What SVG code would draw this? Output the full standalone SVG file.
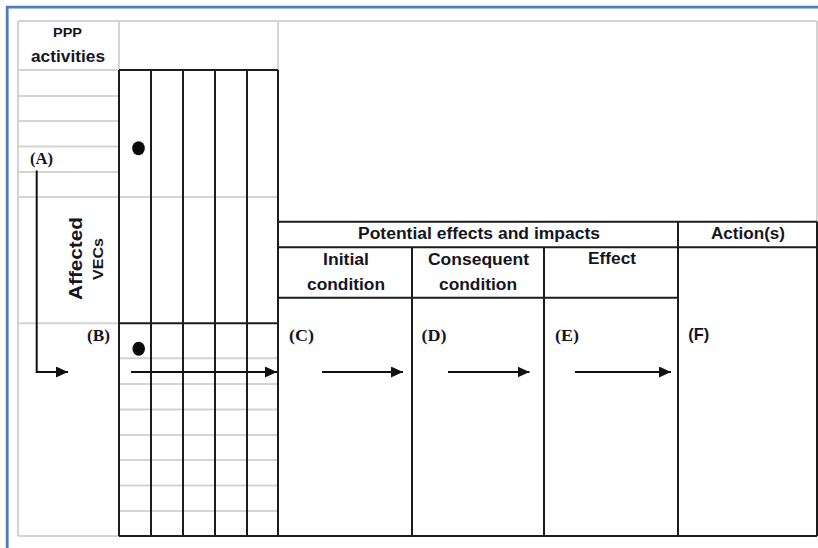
<svg xmlns="http://www.w3.org/2000/svg" width="818" height="548" viewBox="0 0 818 548">
  <style>
    .g { stroke: #d3d3d3; stroke-width: 2; fill: none; }
    .k { stroke: #1c1c1c; stroke-width: 2; fill: none; }
    .hd { font-family: "Liberation Sans", Arial, sans-serif; font-weight: bold; fill: #15151f; }
    .lbl { font-family: "Liberation Serif", "Times New Roman", serif; font-weight: bold; fill: #15151f; font-size: 17px; }
    .arr { stroke: #111; stroke-width: 2; fill: none; marker-end: url(#tip); }
  </style>
  <defs>
    <marker id="tip" viewBox="0 0 12 11" refX="12" refY="5.5" markerWidth="12" markerHeight="11" markerUnits="userSpaceOnUse" orient="auto">
      <path d="M0,0 L12,5.5 L0,11 Z" fill="#111"/>
    </marker>
  </defs>

  <rect width="818" height="548" fill="#ffffff"/>

  <!-- blue page edge -->
  <path d="M7.2,548 V7.2 H818" stroke="#4a7ebb" stroke-width="2.8" fill="none"/>

  <!-- light frame and row rules -->
  <g id="frame">
    <path class="g" d="M18,21 V536 M18,21 H817 M817,21 V221.7 M18,536 H119"/>
    <path class="g" d="M119,21 V70 M278,21 V70 M18,70 H119"/>
    <path class="g" d="M18,96 H119 M18,121 H119 M18,146.5 H119 M18,172 H119 M18,197 H278 M18,323.3 H119"/>
    <path class="g" d="M119,358.3 H278 M119,384 H278 M119,409.5 H278 M119,435 H278 M119,460 H278 M119,485.5 H278 M119,511 H278"/>
  </g>

  <!-- PPP activities column -->
  <g id="ppp-activities">
    <text class="hd" x="67.5" y="37" font-size="13" text-anchor="middle" textLength="29" lengthAdjust="spacingAndGlyphs">PPP</text>
    <text class="hd" x="68" y="62" font-size="16" text-anchor="middle" textLength="74" lengthAdjust="spacingAndGlyphs">activities</text>
    <text class="lbl" x="41.5" y="164" text-anchor="middle" textLength="23" lengthAdjust="spacingAndGlyphs">(A)</text>
  </g>

  <!-- Affected VECs label -->
  <g id="affected-vecs">
    <text class="hd" transform="translate(82,258.5) rotate(-90)" font-size="18" text-anchor="middle" textLength="83" lengthAdjust="spacingAndGlyphs">Affected</text>
    <text class="hd" transform="translate(102.5,259) rotate(-90)" font-size="15" text-anchor="middle" textLength="42" lengthAdjust="spacingAndGlyphs">VECs</text>
    <text class="lbl" x="98.5" y="341" text-anchor="middle" textLength="23" lengthAdjust="spacingAndGlyphs">(B)</text>
  </g>

  <!-- interaction matrix -->
  <g id="matrix">
    <path class="k" d="M119,70 V536 M151,70 V536 M183,70 V536 M215,70 V536 M247,70 V536 M278,70 V536"/>
    <path class="k" d="M119,70 H278 M119,323.3 H278"/>
    <ellipse cx="138.5" cy="148.3" rx="6.3" ry="7" fill="#0a0a0a"/>
    <ellipse cx="138.7" cy="348.8" rx="6.3" ry="7" fill="#0a0a0a"/>
  </g>

  <!-- potential effects and impacts -->
  <g id="effects-header">
    <path class="k" d="M278,221.7 H817 M278,247.3 H817 M278,297.7 H678"/>
    <text class="hd" x="479" y="239" font-size="16" text-anchor="middle" textLength="242" lengthAdjust="spacingAndGlyphs">Potential effects and impacts</text>
  </g>

  <g id="initial-condition">
    <text class="hd" x="346" y="264.5" font-size="16" text-anchor="middle" textLength="46" lengthAdjust="spacingAndGlyphs">Initial</text>
    <text class="hd" x="346" y="290" font-size="16" text-anchor="middle" textLength="78" lengthAdjust="spacingAndGlyphs">condition</text>
    <text class="lbl" x="301.5" y="341" text-anchor="middle" textLength="25" lengthAdjust="spacingAndGlyphs">(C)</text>
  </g>

  <g id="consequent-condition">
    <path class="k" d="M412,247.3 V536"/>
    <text class="hd" x="478.5" y="264.5" font-size="16" text-anchor="middle" textLength="101" lengthAdjust="spacingAndGlyphs">Consequent</text>
    <text class="hd" x="478" y="290" font-size="16" text-anchor="middle" textLength="78" lengthAdjust="spacingAndGlyphs">condition</text>
    <text class="lbl" x="434" y="341" text-anchor="middle" textLength="25" lengthAdjust="spacingAndGlyphs">(D)</text>
  </g>

  <g id="effect">
    <path class="k" d="M544,247.3 V536"/>
    <text class="hd" x="612" y="264" font-size="16" text-anchor="middle" textLength="48" lengthAdjust="spacingAndGlyphs">Effect</text>
    <text class="lbl" x="567" y="341" text-anchor="middle" textLength="24" lengthAdjust="spacingAndGlyphs">(E)</text>
  </g>

  <g id="actions">
    <path class="k" d="M678,221.7 V536 M817,221.7 V536"/>
    <text class="hd" x="748" y="239" font-size="16" text-anchor="middle" textLength="74" lengthAdjust="spacingAndGlyphs">Action(s)</text>
    <text class="hd" x="698.7" y="340" font-size="16.5" text-anchor="middle" textLength="21" lengthAdjust="spacingAndGlyphs">(F)</text>
  </g>

  <g id="base">
    <path class="k" d="M119,536 H817"/>
  </g>

  <!-- flow connectors -->
  <g id="connectors">
    <path class="arr" d="M36.7,170.5 V372 H68"/>
    <path class="arr" d="M131,372 H277"/>
    <path class="arr" d="M322,372 H403"/>
    <path class="arr" d="M448,372 H529.5"/>
    <path class="arr" d="M575,372 H671"/>
  </g>
</svg>
